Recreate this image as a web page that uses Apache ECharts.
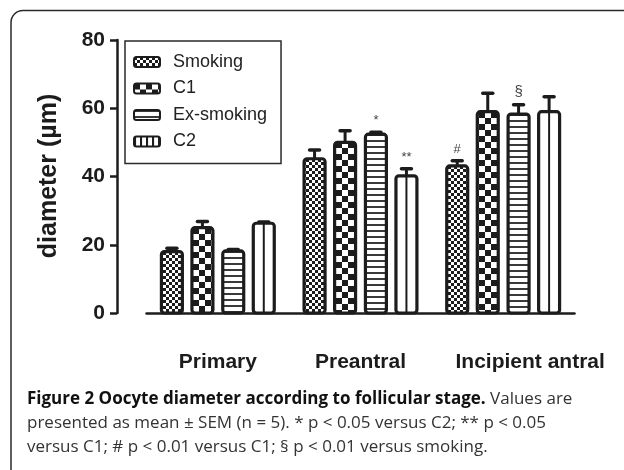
<!DOCTYPE html>
<html><head><meta charset="utf-8">
<script src="https://cdn.jsdelivr.net/npm/echarts@6/dist/echarts.min.js"></script>
<style>html,body{margin:0;padding:0;background:#fff}#c{width:624px;height:470px}</style>
</head><body><div id="c"></div>
<script>
const categories = ['Primary', 'Preantral', 'Incipient antral'];
const seriesNames = ['Smoking', 'C1', 'Ex-smoking', 'C2'];
const smoking = [18, 45.2, 43.1];
const smokingErr = [1, 2.6, 1.5];
const c1 = [25, 50, 59];
const c1Err = [1.8, 3.4, 5.4];
const exSmoking = [18.2, 52.4, 58.3];
const exSmokingErr = [0.4, 0.6, 2.7];
const c2 = [26.3, 40.2, 59];
const c2Err = [0.4, 2.1, 4.4];
const smokingMarks = ['', '', '#'];
const c1Marks = ['', '', ''];
const exSmokingMarks = ['', '*', '\u00a7'];
const c2Marks = ['', '**', ''];
const yTicks = [0, 20, 40, 60, 80];
const yTitle = 'diameter (\u00b5m)';
const captionBold = 'Figure 2 Oocyte diameter according to follicular stage.';
const captionLines = [
  ' Values are',
  'presented as mean \u00b1 SEM (n = 5). * p < 0.05 versus C2; ** p < 0.05',
  'versus C1; # p < 0.01 versus C1; \u00a7 p < 0.01 versus smoking.'
];

const INK = '#1c1c1c';
function mkCanvas(w, h, draw) {
  const c = document.createElement('canvas');
  c.width = w; c.height = h;
  const ctx = c.getContext('2d');
  ctx.fillStyle = '#fff'; ctx.fillRect(0, 0, w, h);
  draw(ctx);
  return c;
}
const patFine = mkCanvas(6, 6, ctx => {
  ctx.fillStyle = INK;
  ctx.fillRect(0, 0, 3, 3); ctx.fillRect(3, 3, 3, 3);
});
const patBig = mkCanvas(12, 12, ctx => {
  ctx.fillStyle = INK;
  ctx.fillRect(0, 0, 6, 6); ctx.fillRect(6, 6, 6, 6);
});
const patStripe = mkCanvas(6, 6, ctx => {
  ctx.fillStyle = '#3a3a3a';
  ctx.fillRect(0, 0, 6, 2);
});
const patWhite = mkCanvas(4, 4, ctx => {});
const patLegendC2 = mkCanvas(6, 6, ctx => {
  ctx.fillStyle = INK;
  ctx.fillRect(0, 0, 2, 6);
});
const patterns = [patFine, patBig, patStripe, patWhite];

const values = [smoking, c1, exSmoking, c2];
const errs = [smokingErr, c1Err, exSmokingErr, c2Err];
const marks = [smokingMarks, c1Marks, exSmokingMarks, c2Marks];
const offsetRatio = [-0.322, -0.108, 0.108, 0.322];
const barRatio = 0.168;

function makeRender(si) {
  return function (params, api) {
    const cat = api.value(0), val = api.value(1), err = api.value(2);
    const band = api.size([1, 0])[0];
    const base = api.coord([cat, 0]);
    const cx = base[0] + offsetRatio[si] * band;
    const y0 = base[1];
    const yt = api.coord([cat, val])[1];
    const ye = api.coord([cat, val + err])[1];
    const w = barRatio * band - 3;
    const left = cx - w / 2;
    const children = [];
    children.push({ type: 'line', shape: { x1: cx, y1: yt, x2: cx, y2: ye },
      style: { stroke: INK, lineWidth: 3 } });
    children.push({ type: 'line', shape: { x1: cx - 5, y1: ye, x2: cx + 5, y2: ye },
      style: { stroke: INK, lineWidth: 3.5, lineCap: 'round' } });
    children.push({ type: 'rect', shape: { x: left, y: yt, width: w, height: y0 - yt, r: 3 },
      style: { fill: { image: patterns[si], repeat: 'repeat', x: Math.round(left + 1.5), y: Math.round(yt) }, stroke: INK, lineWidth: 3.2 } });
    if (si === 3) {
      children.push({ type: 'line', shape: { x1: cx, y1: yt, x2: cx, y2: y0 },
        style: { stroke: INK, lineWidth: 2 } });
    }
    const m = marks[si][params.dataIndex];
    if (m) {
      children.push({ type: 'text', x: cx, y: ye - 5,
        style: { text: m, fill: '#444', fontSize: m === '\u00a7' ? 15 : 13, fontFamily: 'Liberation Sans, Arial', align: 'center', verticalAlign: 'bottom' } });
    }
    return { type: 'group', children };
  };
}

const series = seriesNames.map((name, si) => ({
  type: 'custom',
  name,
  renderItem: makeRender(si),
  encode: { x: 0, y: 1 },
  itemStyle: { color: { image: si === 3 ? patLegendC2 : patterns[si], repeat: 'repeat' }, borderColor: INK, borderWidth: 2 },
  data: categories.map((c, i) => [i, values[si][i], errs[si][i]])
}));

// caption fitting
const capFont = 'Open Sans, Liberation Sans, sans-serif';
const mctx = document.createElement('canvas').getContext('2d');
mctx.font = 'bold 16px ' + capFont;
let wb = mctx.measureText(captionBold).width;
mctx.font = '16px ' + capFont;
let wr = mctx.measureText(captionLines[0]).width;
const capSize = Math.min(17, 16 * 581 / (wb + wr));

const chart = echarts.init(document.getElementById('c'), null, { renderer: 'canvas' });
chart.setOption({
  backgroundColor: '#fff',
  animation: false,
  textStyle: { fontFamily: 'Liberation Sans, Arial, sans-serif' },
  grid: { left: 146.5, right: 49.5, top: 40, bottom: 157, containLabel: false },
  legend: {
    orient: 'vertical', left: 125, top: 41,
    padding: [12, 14, 13, 8],
    itemGap: 8.5, itemWidth: 26, itemHeight: 10,
    borderColor: '#2a2a2a', borderWidth: 1.5,
    icon: 'roundRect',
    textStyle: { fontSize: 18, color: '#222', padding: [0, 0, 0, 8], fontFamily: 'Liberation Sans, Arial' },
    data: seriesNames
  },
  xAxis: {
    type: 'category', data: categories, offset: 31,
    axisLine: { show: true, lineStyle: { color: INK, width: 2.5 } },
    axisTick: { show: false },
    axisLabel: {
      interval: 0, hideOverlap: false,
      margin: 8, fontSize: 21, fontWeight: 'bold', color: INK,
      formatter: (v, i) => i === 2 ? '{s|' + v + '}' : v,
      rich: { s: { fontSize: 21, fontWeight: 'bold', color: INK, padding: [0, 0, 0, 54] } }
    }
  },
  yAxis: {
    type: 'value', min: yTicks[0], max: yTicks[yTicks.length - 1], interval: yTicks[1] - yTicks[0], offset: 29.5,
    axisLine: { show: true, lineStyle: { color: INK, width: 2.5 } },
    axisTick: { show: true, length: 7, lineStyle: { color: INK, width: 2.5 } },
    axisLabel: { margin: 12, fontSize: 21, fontWeight: 'bold', color: INK },
    splitLine: { show: false }
  },
  series,
  graphic: [
    { type: 'rect', shape: { x: 11, y: 10.5, width: 700, height: 600, r: 12 }, style: { fill: null, stroke: '#2a2a2a', lineWidth: 1.5 }, silent: true, z: -1 },
    { type: 'text', x: 49, y: 176, rotation: Math.PI / 2,
      style: { text: yTitle, fontSize: 25, fontWeight: 'bold', fill: INK, align: 'center', verticalAlign: 'middle', fontFamily: 'Liberation Sans, Arial' } },
    { type: 'text', x: 27, y: 405 - capSize * 0.37,
      style: { text: '{b|' + captionBold + '}{r|' + captionLines[0] + '}', verticalAlign: 'middle',
        rich: { b: { fontWeight: 'bold', fontSize: capSize, fontFamily: capFont, fill: '#111' }, r: { fontSize: capSize, fontFamily: capFont, fill: '#333' } } } },
    { type: 'text', x: 27, y: 429 - capSize * 0.37,
      style: { text: captionLines[1], fontSize: capSize, fontFamily: capFont, fill: '#333', verticalAlign: 'middle' } },
    { type: 'text', x: 27, y: 453 - capSize * 0.37,
      style: { text: captionLines[2], fontSize: capSize, fontFamily: capFont, fill: '#333', verticalAlign: 'middle' } }
  ]
});
</script></body></html>
